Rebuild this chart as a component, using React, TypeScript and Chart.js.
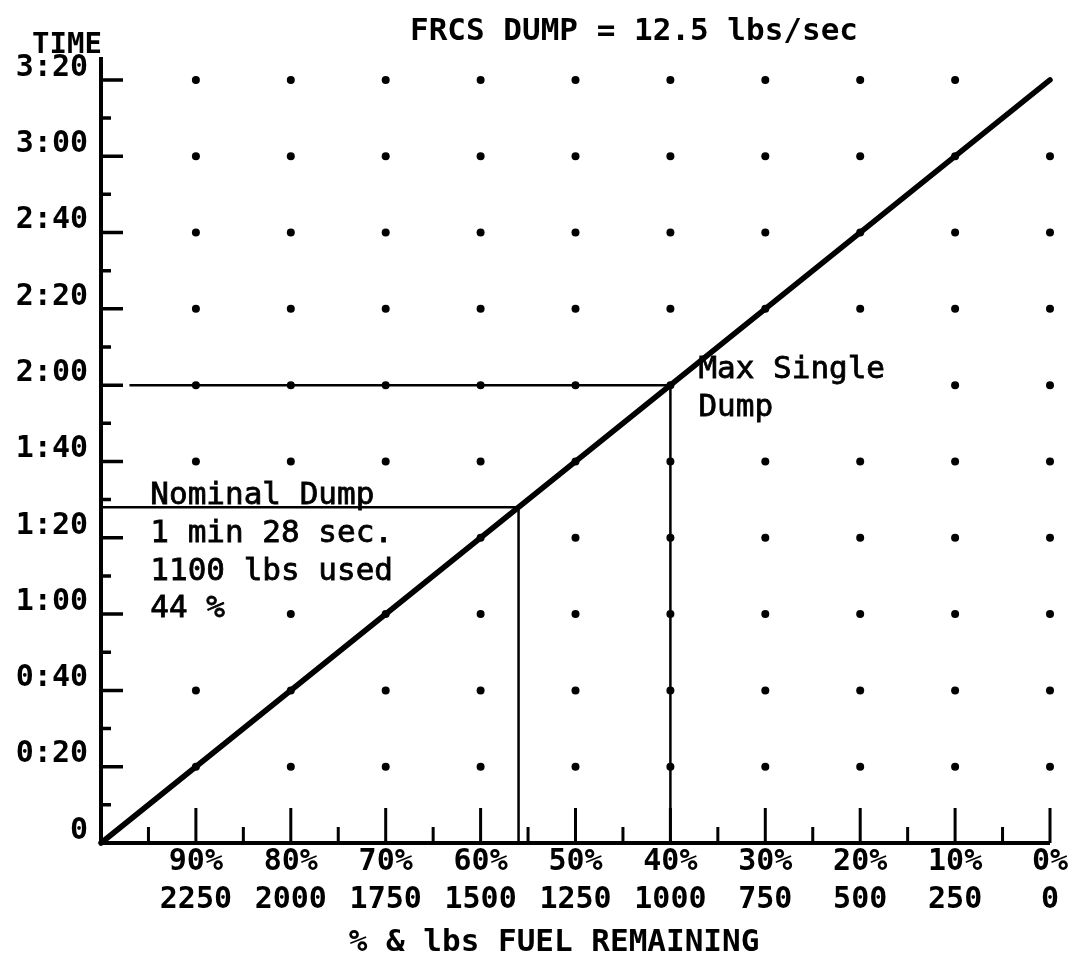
import React, { useEffect, useRef } from "react";
import { Chart, registerables } from "chart.js";

Chart.register(...registerables);

const FONT = "'DejaVu Sans Mono', 'Liberation Mono', monospace";

const titleText = "FRCS DUMP = 12.5 lbs/sec";
const yAxisTitle = "TIME";
const xAxisTitle = "% & lbs FUEL REMAINING";

const yTickValues = [0, 20, 40, 60, 80, 100, 120, 140, 160, 180, 200];
const yTickLabels = ["0", "0:20", "0:40", "1:00", "1:20", "1:40", "2:00", "2:20", "2:40", "3:00", "3:20"];
const yMinorTicks = [10, 30, 50, 70, 90, 110, 130, 150, 170, 190];

const xTickValues = [90, 80, 70, 60, 50, 40, 30, 20, 10, 0];
const xPctLabels = ["90%", "80%", "70%", "60%", "50%", "40%", "30%", "20%", "10%", "0%"];
const xLbsLabels = ["2250", "2000", "1750", "1500", "1250", "1000", "750", "500", "250", "0"];
const xMinorTicks = [95, 85, 75, 65, 55, 45, 35, 25, 15, 5];

// FRCS dump line: % fuel remaining vs. time (sec)
const dumpLinePct = [100, 0];
const dumpLineSec = [0, 200];

// Max single dump: 40% remaining at 2:00
const maxDumpPct = [97, 40, 40];
const maxDumpSec = [120, 120, 0];

// Nominal dump: 56% remaining at 1:28
const nominalPct = [100, 56, 56];
const nominalSec = [88, 88, 0];

// Background dot grid
const dotPct = [90, 80, 70, 60, 50, 40, 30, 20, 10, 0];
const dotSec = [20, 40, 60, 80, 100, 120, 140, 160, 180, 200];
const hiddenDots = [
  [90, 80],
  [80, 80],
  [70, 80],
  [90, 60],
  [30, 120],
  [20, 120],
  [0, 200],
];

const nominalNotes = ["Nominal Dump", "1 min 28 sec.", "1100 lbs used", "44 %"];
const maxNotes = ["Max Single", "Dump"];

const toPoints = (xs: number[], ys: number[]) => xs.map((x, i) => ({ x, y: ys[i] }));

const dotPoints = (() => {
  const pts: { x: number; y: number }[] = [];
  for (const s of dotSec) {
    for (const p of dotPct) {
      if (hiddenDots.some(([hp, hs]) => hp === p && hs === s)) continue;
      pts.push({ x: p, y: s });
    }
  }
  return pts;
})();

const decorPlugin = {
  id: "decor",
  beforeDatasetsDraw(chart: any) {
    const { ctx, chartArea } = chart;
    const xs = chart.scales.x;
    const ys = chart.scales.y;
    const left = chartArea.left;
    const bottom = chartArea.bottom;
    ctx.save();
    ctx.strokeStyle = "#000";
    ctx.lineCap = "butt";
    // axes
    ctx.lineWidth = 4;
    ctx.beginPath();
    ctx.moveTo(left, bottom + 2);
    ctx.lineTo(left, chartArea.top);
    ctx.moveTo(left - 2, bottom);
    ctx.lineTo(chartArea.right, bottom);
    ctx.stroke();
    // y ticks (inside)
    ctx.lineWidth = 3.5;
    ctx.beginPath();
    for (const v of yTickValues) {
      if (v === 0) continue;
      const y = ys.getPixelForValue(v);
      ctx.moveTo(left, y);
      ctx.lineTo(left + 22, y);
    }
    for (const v of yMinorTicks) {
      const y = ys.getPixelForValue(v);
      ctx.moveTo(left, y);
      ctx.lineTo(left + 10, y);
    }
    ctx.stroke();
    // x ticks (upward)
    ctx.lineWidth = 3;
    ctx.beginPath();
    for (const v of xTickValues) {
      const x = xs.getPixelForValue(v);
      ctx.moveTo(x, bottom);
      ctx.lineTo(x, bottom - 35);
    }
    for (const v of xMinorTicks) {
      const x = xs.getPixelForValue(v);
      ctx.moveTo(x, bottom);
      ctx.lineTo(x, bottom - 16);
    }
    ctx.stroke();
    ctx.restore();
  },
  afterDraw(chart: any) {
    const { ctx } = chart;
    const xs = chart.scales.x;
    const ys = chart.scales.y;
    ctx.save();
    ctx.fillStyle = "#000";
    ctx.strokeStyle = "#000";
    ctx.textBaseline = "alphabetic";

    // title
    ctx.font = `bold 31px ${FONT}`;
    ctx.textAlign = "center";
    ctx.fillText(titleText, 634, 40);

    // y axis title
    ctx.font = `bold 29px ${FONT}`;
    ctx.textAlign = "left";
    ctx.fillText(yAxisTitle, 32, 53);

    // x axis title
    ctx.font = `bold 31px ${FONT}`;
    ctx.textAlign = "center";
    ctx.fillText(xAxisTitle, 554, 951);

    // annotations (typewriter weight, slightly thickened)
    ctx.font = `31px ${FONT}`;
    ctx.textAlign = "left";
    ctx.lineWidth = 0.8;
    const nx = xs.getPixelForValue(94.8);
    const ny = ys.getPixelForValue(nominalSec[0]) - 3;
    nominalNotes.forEach((t, i) => {
      ctx.fillText(t, nx, ny + i * 37.7);
      ctx.strokeText(t, nx, ny + i * 37.7);
    });

    const mx = xs.getPixelForValue(maxDumpPct[1]) + 28;
    const my = ys.getPixelForValue(maxDumpSec[0]) - 7;
    maxNotes.forEach((t, i) => {
      ctx.fillText(t, mx, my + i * 38);
      ctx.strokeText(t, mx, my + i * 38);
    });
    ctx.restore();
  },
};

export default function App() {
  const canvasRef = useRef<HTMLCanvasElement | null>(null);

  useEffect(() => {
    if (!canvasRef.current) return;
    const chart = new Chart(canvasRef.current, {
      type: "scatter",
      data: {
        datasets: [
          {
            label: "FRCS dump",
            data: toPoints(dumpLinePct, dumpLineSec),
            showLine: true,
            borderColor: "#000",
            borderWidth: 5.5,
            borderCapStyle: "round",
            pointRadius: 0,
            clip: false,
          } as any,
          {
            label: "Max single dump",
            data: toPoints(maxDumpPct, maxDumpSec),
            showLine: true,
            borderColor: "#000",
            borderWidth: 2.5,
            pointRadius: 0,
            clip: false,
          } as any,
          {
            label: "Nominal dump",
            data: toPoints(nominalPct, nominalSec),
            showLine: true,
            borderColor: "#000",
            borderWidth: 2.5,
            pointRadius: 0,
            clip: false,
          } as any,
          {
            label: "grid dots",
            data: dotPoints,
            showLine: false,
            pointRadius: 4,
            pointBorderWidth: 0,
            backgroundColor: "#000",
            borderColor: "#000",
            clip: false,
          } as any,
        ],
      },
      options: {
        responsive: false,
        animation: false,
        events: [],
        layout: { padding: { top: 57, right: 38, left: 0, bottom: 0 } },
        plugins: {
          legend: { display: false },
          tooltip: { enabled: false },
          title: { display: false },
        },
        scales: {
          x: {
            type: "linear",
            reverse: true,
            min: 0,
            max: 100,
            grid: { display: false, drawTicks: false },
            border: { display: false },
            afterBuildTicks: (s: any) => {
              s.ticks = [...xTickValues].reverse().map((v) => ({ value: v }));
            },
            afterFit: (s: any) => {
              s.height = 115;
            },
            ticks: {
              autoSkip: false,
              maxRotation: 0,
              minRotation: 0,
              padding: 0,
              color: "#000",
              font: { family: FONT, size: 30, weight: "bold", lineHeight: 1.27 },
              callback: (v: any) => {
                const i = xTickValues.indexOf(Number(v));
                return i < 0 ? "" : [xPctLabels[i], xLbsLabels[i]];
              },
            },
          },
          y: {
            type: "linear",
            min: 0,
            max: 206,
            grid: { display: false, drawTicks: false },
            border: { display: false },
            afterBuildTicks: (s: any) => {
              s.ticks = yTickValues.map((v) => ({ value: v }));
            },
            afterFit: (s: any) => {
              s.width = 101;
            },
            ticks: {
              autoSkip: false,
              padding: 13,
              labelOffset: -12,
              color: "#000",
              font: { family: FONT, size: 30, weight: "bold" },
              callback: (v: any) => {
                const i = yTickValues.indexOf(Number(v));
                return i < 0 ? "" : yTickLabels[i];
              },
            },
          },
        },
      } as any,
      plugins: [decorPlugin],
    });
    return () => chart.destroy();
  }, []);

  return (
    <div style={{ position: "absolute", left: 0, top: 0, width: 1088, height: 958, background: "#fff" }}>
      <canvas ref={canvasRef} width={1088} height={958} style={{ display: "block" }} />
    </div>
  );
}
